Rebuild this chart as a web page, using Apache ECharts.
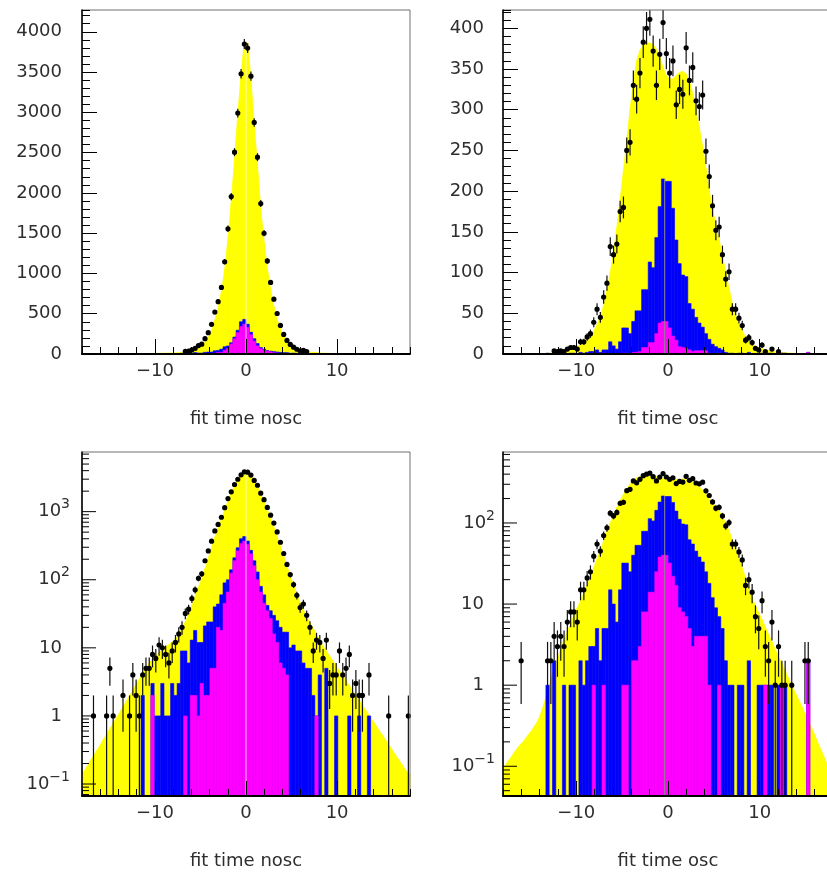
<!DOCTYPE html>
<html>
<head>
<meta charset="utf-8">
<script src="https://cdn.jsdelivr.net/npm/echarts@6.0.0/dist/echarts.min.js"></script>
<style>
html,body{margin:0;padding:0;background:#fff;}
#c{width:827px;height:872px;}
</style>
</head>
<body>
<div id="c"></div>
<script>
// ---------------- data ----------------
const X_MIN = -18, X_MAX = 18, N_BINS = 100;
const xTitles = ['fit time nosc', 'fit time osc'];
const xMajorTicks = [-10, 0, 10];

// "nosc" sample: data counts, blue histogram, magenta histogram, yellow model
const noscData = [
  0,0,0,1,0,0,0,1,5,1,
  0,0,2,0,1,4,2,1,4,5,
  5,8,7,11,10,8,6,9,12,16,
  20,32,37,53,71,105,122,190,265,368,
  521,650,827,1145,1555,1954,2505,2990,3478,3847,
  3797,3449,2874,2443,1867,1499,1155,888,680,503,
  355,243,168,119,85,59,39,44,30,20,
  9,13,12,7,13,3,4,4,9,4,
  5,8,2,3,2,2,0,4,0,0,
  0,0,0,1,0,0,0,0,0,1
];
const noscBlue = [
  0,0,0,0,0,0,0,0,0,0,
  0,0,0,0,0,0,0,0,2,0,
  0,3,1,1,3,1,1,3,2,3,
  9,9,6,13,18,12,12,21,24,24,
  40,44,60,90,100,140,210,295,400,430,
  370,270,190,130,80,60,42,35,30,25,
  20,17,17,10,11,9,9,6,5,5,
  2,1,4,0,5,0,0,1,0,0,
  0,1,0,0,1,0,0,1,0,0,
  0,0,0,0,0,0,0,0,0,0
];
const noscMagenta = [
  0,0,0,0,0,0,0,0,0,0,
  0,0,0,0,0,0,0,0,0,0,
  0,2,0,0,0,0,0,0,0,0,
  0,1,0,2,2,1,3,2,2,5,
  5,20,18,45,66,125,190,265,340,370,
  330,240,160,100,66,45,35,27,16,12,
  6,5,4,0,0,0,0,0,0,0,
  0,1,0,0,0,0,0,0,0,0,
  0,0,0,0,0,0,0,0,0,0,
  0,0,0,0,0,0,0,0,0,0
];
const noscModel = [
  0.15,0.18,0.22,0.26,0.31,0.37,0.45,0.54,0.65,0.78,
  0.94,1.13,1.36,1.64,1.97,2.4,2.9,3.5,4.2,5.0,
  6.0,6.8,7.6,8.5,9.4,10.3,11.2,12.2,13.5,15.5,
  19,24,31,42,57,78,105,145,205,295,
  420,570,770,1050,1430,1880,2420,2970,3470,3880,
  3860,3420,2840,2350,1800,1400,1070,800,590,430,
  310,220,158,115,84,62,46,36,29,23,
  19.5,16,13,10.6,9.0,7.6,6.4,5.4,4.6,3.9,
  3.3,2.8,2.35,2.0,1.7,1.43,1.21,1.03,0.87,0.74,
  0.62,0.53,0.45,0.38,0.32,0.27,0.23,0.195,0.165,0.14
];

// "osc" sample
const oscData = [
  0,0,0,0,0,2,0,0,0,0,
  0,0,0,2,2,4,3,4,3,6,
  8,8,6,15,15,21,25,39,55,45,
  70,87,132,122,135,175,180,250,260,330,
  313,345,383,400,411,372,330,368,407,369,
  345,360,306,325,319,376,336,352,311,304,
  318,249,218,182,152,156,122,92,101,55,
  55,44,35,17,20,14,7,5,11,3,
  2,6,1,3,1,1,0,1,0,0,
  0,2,2,0,0,0,0,0,0,0
];
const oscBlue = [
  0,0,0,0,0,0,0,0,0,0,
  0,0,0,1,0,2,0,0,1,0,
  1,1,0,2,1,2,3,3,5,2,
  5,5,15,10,6,15,32,32,25,40,
  53,53,79,79,113,106,143,181,215,212,
  212,179,140,111,97,95,62,55,45,38,
  33,25,18,12,9,7,5,2,1,1,
  0,1,1,0,2,0,0,1,1,1,
  1,1,0,1,1,1,0,0,0,0,
  0,0,2,0,0,0,0,0,0,0
];
const oscMagenta = [
  0,0,0,0,0,0,0,0,0,0,
  0,0,0,0,0,0,0,0,0,0,
  0,0,0,0,0,0,0,1,0,0,
  1,0,0,0,0,0,1,1,0,2,
  2,3,8,8,14,14,25,38,40,40,
  32,22,17,9,8,7,5,3,4,4,
  4,4,1,0,0,1,0,0,0,0,
  0,0,0,0,0,0,0,0,0,1,
  0,0,0,0,1,0,0,0,0,0,
  0,0,2,0,0,0,0,0,0,0
];
const oscModel = [
  0.10,0.115,0.13,0.15,0.17,0.19,0.21,0.24,0.27,0.31,
  0.36,0.45,0.6,0.85,1.2,1.6,2.1,2.8,3.6,4.6,
  5.8,7.2,9,11,13.5,17,22,28,36,46,
  60,78,100,125,155,190,225,262,300,335,
  360,373,380,382,382,380,374,365,352,342,
  338,338,342,346,347,344,335,320,300,278,
  255,228,200,178,158,140,120,100,80,62,
  48,37,28,21,16,12,9.5,7.8,6.4,5.2,
  4.2,3.4,2.75,2.25,1.85,1.5,1.22,1.0,0.82,0.67,
  0.55,0.45,0.37,0.3,0.24,0.19,0.155,0.125,0.1,0.08
];

// thin vertical bin-edge line seen in each sample
const centerLineX = [0, -0.36];
const centerLineTop = [3880, 215];

// ---------------- layout / style ----------------
const FONT = 'DejaVu Sans';
const TXT = '#2e2e2e';
const YELLOW = '#ffff00', BLUE = '#0000ff', MAGENTA = '#ff00ff';
const LAYOUT = [
  {left: 82,  top: 10,  width: 328, height: 344},
  {left: 503, top: 10,  width: 330, height: 344},
  {left: 82,  top: 452, width: 328, height: 344},
  {left: 503, top: 452, width: 330, height: 344}
];
const PANELS = [
  {set: 0, log: false, yMin: 0, yMax: 4270, yMinor: 100, yMajor: 500, margin: 20},
  {set: 1, log: false, yMin: 0, yMax: 422.5, yMinor: 10, yMajor: 50, margin: 19},
  {set: 0, log: true, yMin: 0.0667, yMax: 7515, margin: 12, spacer: 8},
  {set: 1, log: true, yMin: 0.043, yMax: 750, margin: 8, spacer: 11}
];
// markers sitting this close to the axis line are hidden by it in the original
const MIN_MARKER_LIFT = 2;

const SETS = [
  {data: noscData, blue: noscBlue, mag: noscMagenta, model: noscModel},
  {data: oscData, blue: oscBlue, mag: oscMagenta, model: oscModel}
];

const BIN_W = (X_MAX - X_MIN) / N_BINS;
const binLo = Array.from({length: N_BINS}, (_, i) => X_MIN + i * BIN_W);
const binCenter = binLo.map(x => x + BIN_W / 2);

// ---------------- helpers ----------------
function fmtX(v) {
  const r = Math.round(v);
  if (Math.abs(v - r) > 1e-6 || r % 10 !== 0) return '';
  return r < 0 ? '\u2212' + (-r) : String(r);
}
function fmtLinear(major) {
  return function (v) {
    const q = v / major;
    return Math.abs(q - Math.round(q)) < 1e-6 ? String(Math.round(v)) : '';
  };
}
function fmtLog(v) {
  const l = Math.log10(v);
  const e = Math.round(l);
  if (Math.abs(l - e) > 1e-6) return '';
  if (e === 0) return '{b|1}{p| }';
  if (e === 1) return '{b|10}{p| }';
  return '{b|10}{s|' + (e < 0 ? '\u2212' + (-e) : String(e)) + '}';
}

function histSeries(g, values, color, z) {
  return {
    type: 'custom', xAxisIndex: 2 * g, yAxisIndex: 2 * g, z: z, silent: true,
    encode: {x: [0, 1], y: 2},
    data: values.map((v, i) => [binLo[i], binLo[i] + BIN_W, v]),
    renderItem: function (params, api) {
      const v = api.value(2);
      if (!(v > 0)) return null;
      const cs = params.coordSys;
      const bottom = cs.y + cs.height;
      const p0 = api.coord([api.value(0), v]);
      const p1 = api.coord([api.value(1), v]);
      const top = Math.max(cs.y, p0[1]);
      if (top >= bottom) return null;
      return {
        type: 'rect',
        shape: {x: p0[0], y: top, width: p1[0] - p0[0], height: bottom - top},
        style: {fill: color, stroke: color, lineWidth: 0.6}
      };
    }
  };
}

function modelSeries(g, vals) {
  const xs = [X_MIN].concat(binCenter, [X_MAX]);
  const ys = [vals[0]].concat(vals, [vals[vals.length - 1]]);
  const data = [];
  for (let i = 0; i < xs.length - 1; i++) data.push([xs[i], xs[i + 1], ys[i], ys[i + 1]]);
  return {
    type: 'custom', xAxisIndex: 2 * g, yAxisIndex: 2 * g, z: 2, silent: true,
    encode: {x: [0, 1], y: [2, 3]},
    data: data,
    renderItem: function (params, api) {
      const cs = params.coordSys;
      const bottom = cs.y + cs.height;
      const a = api.coord([api.value(0), api.value(2)]);
      const b = api.coord([api.value(1), api.value(3)]);
      return {
        type: 'polygon',
        shape: {points: [[a[0], Math.max(cs.y, a[1])], [b[0], Math.max(cs.y, b[1])], [b[0], bottom], [a[0], bottom]]},
        style: {fill: YELLOW, stroke: YELLOW, lineWidth: 0.8}
      };
    }
  };
}

function centerLineSeries(g, s) {
  return {
    type: 'custom', xAxisIndex: 2 * g, yAxisIndex: 2 * g, z: 5, silent: true,
    encode: {x: 0, y: 1},
    data: [[centerLineX[s], centerLineTop[s]]],
    renderItem: function (params, api) {
      const cs = params.coordSys;
      const p = api.coord([api.value(0), api.value(1)]);
      return {
        type: 'line',
        shape: {x1: p[0], y1: p[1], x2: p[0], y2: cs.y + cs.height},
        style: {stroke: s === 0 ? 'rgba(255,255,255,0.75)' : '#8a8a8a', lineWidth: 1}
      };
    }
  };
}

function dataSeries(g, values, isLog) {
  const pts = [];
  values.forEach((v, i) => { if (v > 0) pts.push([binCenter[i], v]); });
  return {
    type: 'custom', xAxisIndex: 2 * g, yAxisIndex: 2 * g, z: 6, silent: true,
    encode: {x: 0, y: 1},
    data: pts,
    renderItem: function (params, api) {
      const cs = params.coordSys;
      const top = cs.y, bottom = cs.y + cs.height;
      const x = api.value(0), n = api.value(1);
      const e = Math.sqrt(n);
      const c = api.coord([x, n]);
      if (!isLog && bottom - c[1] < MIN_MARKER_LIFT) return null;
      const yHi = Math.max(top, api.coord([x, n + e])[1]);
      let yLo = (n - e > 0) ? api.coord([x, n - e])[1] : bottom;
      yLo = Math.min(bottom, yLo);
      return {
        type: 'group',
        children: [
          {type: 'line', shape: {x1: c[0], y1: yHi, x2: c[0], y2: yLo}, style: {stroke: '#111', lineWidth: 1.2}},
          {type: 'circle', shape: {cx: c[0], cy: c[1], r: 2.6}, style: {fill: '#000'}}
        ]
      };
    }
  };
}

function logTickSeries(g, yMin, yMax) {
  const ticks = [];
  for (let k = Math.floor(Math.log10(yMin)); k <= Math.ceil(Math.log10(yMax)); k++) {
    for (let m = 1; m <= 9; m++) {
      const v = m * Math.pow(10, k);
      if (v >= yMin && v <= yMax) ticks.push([X_MIN, v, m === 1 ? 1 : 0]);
    }
  }
  return {
    type: 'custom', xAxisIndex: 2 * g, yAxisIndex: 2 * g, z: 11, silent: true,
    encode: {x: 0, y: 1},
    data: ticks,
    renderItem: function (params, api) {
      const cs = params.coordSys;
      const y = api.coord([api.value(0), api.value(1)])[1];
      const len = api.value(2) ? 14 : 7;
      return {
        type: 'line',
        shape: {x1: cs.x, y1: y, x2: cs.x + len, y2: y},
        style: {stroke: '#000', lineWidth: 1}
      };
    }
  };
}

// ---------------- build option ----------------
const grid = [], xAxis = [], yAxis = [], series = [];
PANELS.forEach((p, g) => {
  const L = LAYOUT[g];
  grid.push({
    left: L.left, top: L.top, width: L.width, height: L.height,
    show: true, borderColor: '#707070', borderWidth: 1, backgroundColor: 'rgba(0,0,0,0)',
    containLabel: false, outerBoundsMode: 'none', z: 8
  });
  // x axes
  xAxis.push({
    type: 'value', gridIndex: g, position: 'bottom', min: X_MIN, max: X_MAX, interval: 2, z: 10,
    axisLine: {show: true, onZero: false, lineStyle: {color: '#000', width: 2}},
    axisTick: {show: true, inside: true, length: 7, lineStyle: {color: '#000', width: 1}},
    splitLine: {show: false},
    axisLabel: {show: true, margin: 8, fontSize: 18, fontFamily: FONT, color: TXT, formatter: fmtX},
    name: xTitles[p.set], nameLocation: 'middle', nameGap: 56,
    nameTextStyle: {fontSize: 18, fontFamily: FONT, color: TXT}
  });
  xAxis.push({
    type: 'value', gridIndex: g, position: 'bottom', min: X_MIN, max: X_MAX, interval: 2, z: 10,
    axisLine: {show: false, onZero: false},
    axisTick: {show: true, inside: true, length: 15, customValues: xMajorTicks, lineStyle: {color: '#000', width: 1}},
    splitLine: {show: false}, axisLabel: {show: false}
  });
  // y axes
  if (!p.log) {
    const majors = [];
    for (let v = p.yMin; v <= p.yMax + 1e-9; v += p.yMajor) majors.push(v);
    yAxis.push({
      type: 'value', gridIndex: g, position: 'left', min: p.yMin, max: p.yMax, interval: p.yMinor, z: 10,
      axisLine: {show: true, onZero: false, lineStyle: {color: '#000', width: 1.5}},
      axisTick: {show: true, inside: true, length: 8, lineStyle: {color: '#000', width: 1}},
      splitLine: {show: false},
      axisLabel: {margin: p.margin, fontSize: 18, fontFamily: FONT, color: TXT, formatter: fmtLinear(p.yMajor)}
    });
    yAxis.push({
      type: 'value', gridIndex: g, position: 'left', min: p.yMin, max: p.yMax, interval: p.yMinor, z: 10,
      axisLine: {show: false, onZero: false},
      axisTick: {show: true, inside: true, length: 15, customValues: majors, lineStyle: {color: '#000', width: 1}},
      splitLine: {show: false}, axisLabel: {show: false}
    });
  } else {
    yAxis.push({
      type: 'log', logBase: 10, gridIndex: g, position: 'left', min: p.yMin, max: p.yMax, z: 10,
      axisLine: {show: true, onZero: false, lineStyle: {color: '#000', width: 1.5}},
      axisTick: {show: false}, minorTick: {show: false},
      splitLine: {show: false}, minorSplitLine: {show: false},
      axisLabel: {
        margin: p.margin, formatter: fmtLog,
        rich: {
          b: {fontSize: 18, fontFamily: FONT, color: TXT, lineHeight: 20},
          s: {fontSize: 14, fontFamily: FONT, color: TXT, lineHeight: 14, padding: [0, 0, 14, 0]},
          p: {width: p.spacer, fontSize: 18, fontFamily: FONT, lineHeight: 20}
        }
      }
    });
    yAxis.push({
      type: 'log', logBase: 10, gridIndex: g, position: 'left', min: p.yMin, max: p.yMax, show: false
    });
  }
  const S = SETS[p.set];
  series.push(modelSeries(g, S.model));
  series.push(histSeries(g, S.blue, BLUE, 3));
  series.push(histSeries(g, S.mag, MAGENTA, 4));
  series.push(centerLineSeries(g, p.set));
  series.push(dataSeries(g, S.data, p.log));
  if (p.log) series.push(logTickSeries(g, p.yMin, p.yMax));
});

const chart = echarts.init(document.getElementById('c'), null, {renderer: 'canvas'});
chart.setOption({
  animation: false,
  backgroundColor: '#fff',
  grid: grid, xAxis: xAxis, yAxis: yAxis, series: series
});
</script>
</body>
</html>
